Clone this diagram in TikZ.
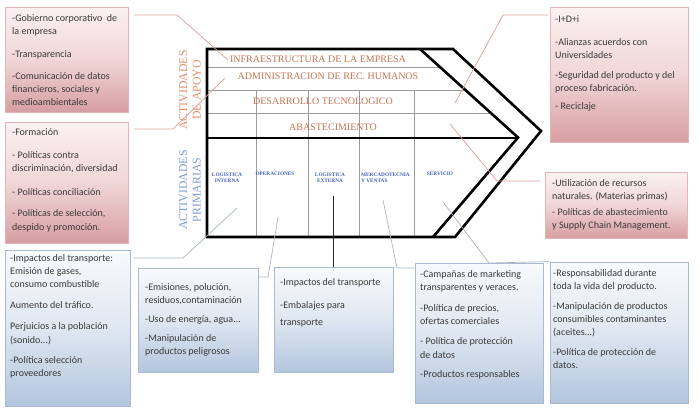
\documentclass[tikz,border=0pt]{standalone}
\usepackage{fontspec}
\setmainfont{Carlito}
\newfontfamily\serifrm{Liberation Serif}
\usetikzlibrary{shadows}
\definecolor{pinkedge}{HTML}{E2B5B7}
\definecolor{pinktop}{HTML}{FBF1F1}
\definecolor{pinkmid}{HTML}{F1D6D7}
\definecolor{pinkbot}{HTML}{D79EA2}
\definecolor{blueedge}{HTML}{A9BBD0}
\definecolor{bluetop}{HTML}{F8FAFD}
\definecolor{bluemid}{HTML}{DFE7F1}
\definecolor{bluebot}{HTML}{B3C6DE}
\definecolor{pinkline}{HTML}{E49C9C}
\definecolor{grayline}{HTML}{A9B6C4}
\definecolor{rowtext}{HTML}{C57552}
\definecolor{apoyo}{HTML}{E3906E}
\definecolor{primcol}{HTML}{7E9CD3}
\definecolor{coltext}{HTML}{3F62B8}
\definecolor{boxtext}{HTML}{3A3A3A}
\definecolor{gridline}{HTML}{9A9A9A}
\tikzset{
  pinkbox/.style={draw=pinkedge, line width=0.8pt, top color=pinktop, bottom color=pinkbot, middle color=pinkmid,
    drop shadow={opacity=0.18, shadow xshift=1.2pt, shadow yshift=-1.2pt}, inner sep=0pt},
  bluebox/.style={draw=blueedge, line width=0.8pt, top color=bluetop, bottom color=bluebot, middle color=bluemid,
    drop shadow={opacity=0.18, shadow xshift=1.2pt, shadow yshift=-1.2pt}, inner sep=0pt},
  boxtxt/.style={anchor=north west, align=left, inner sep=0pt, font=\fontsize{10}{13.2}\selectfont, text=boxtext},
  rowlbl/.style={font=\serifrm\fontsize{10}{11}\selectfont, text=rowtext, inner sep=0pt},
  collbl/.style={font=\serifrm\bfseries\fontsize{5.3}{6.3}\selectfont, text=coltext, inner sep=0pt, align=center},
  sidelbl/.style={font=\serifrm\fontsize{11.8}{13.5}\selectfont, rotate=90, align=center, inner sep=0pt},
  thickline/.style={line width=2.6pt, line join=miter},
  thinrow/.style={gridline, line width=0.5pt},
  pinkconn/.style={pinkline, line width=0.7pt},
  grayconn/.style={grayline, line width=0.7pt},
}
\begin{document}
\begin{tikzpicture}[x=1pt,y=-1pt]
\useasboundingbox[fill=white] (0,0) rectangle (700,408);

% ---- value chain grid ----
\draw[thinrow] (207,67) -- (440,67);
\draw[thinrow] (207,90) -- (465.7,90);
\draw[thinrow] (207,113) -- (491.3,113);
\foreach \xx in {256,308,359,414}{
  \draw[thinrow] (\xx,90) -- (\xx,237);
}
\draw[thickline] (207,49) -- (453,49) -- (541,131) -- (455,237) -- (207,237) -- cycle;
\draw[thickline] (420,49) -- (518,137.5) -- (433,237);
\draw[thickline] (207,138) -- (518,138);

% ---- support rows ----
\node[rowlbl] (infra) at (318,59) {INFRAESTRUCTURA DE LA EMPRESA};
\node[rowlbl] (rrhh) at (328,76) {ADMINISTRACION DE REC. HUMANOS};
\node[rowlbl] (tec) at (323,101) {DESARROLLO TECNOLOGICO};
\node[rowlbl] (abast) at (333,127) {ABASTECIMIENTO};

% ---- primary columns ----
\node[collbl] (li) at (227,178) {LOGISTICA\\INTERNA};
\node[collbl] (op) at (275,174) {OPERACIONES};
\node[collbl] (le) at (330,178) {LOGISTICA\\EXTERNA};
\node[collbl, align=left, anchor=west] (mv) at (361,178) {MERCADOTECNIA\\Y VENTAS};
\node[collbl] (sv) at (440,174) {SERVICIO};

% ---- side labels ----
\node[sidelbl, text=apoyo] (apoyo) at (190,90) {ACTIVIDADES\\DE APOYO};
\node[sidelbl, text=primcol] (prim) at (190,190) {ACTIVIDADES\\PRIMARIAS};

% ---- boxes ----
\node[pinkbox, minimum width=123pt, minimum height=105pt] (b1) at (66.5,59.5) {};
\node[pinkbox, minimum width=123pt, minimum height=121pt] (b2) at (66.5,182.5) {};
\node[pinkbox, minimum width=138pt, minimum height=135pt] (b3) at (619,74.5) {};
\node[pinkbox, minimum width=142pt, minimum height=66pt] (b4) at (616,205) {};
\node[bluebox, minimum width=125pt, minimum height=156pt] (b5) at (67.5,328) {};
\node[bluebox, minimum width=120pt, minimum height=104pt] (b6) at (198,320) {};
\node[bluebox, minimum width=119pt, minimum height=105pt] (b7) at (333.5,319.5) {};
\node[bluebox, minimum width=128pt, minimum height=140pt] (b8) at (479,333) {};
\node[bluebox, minimum width=138pt, minimum height=141pt] (b9) at (619,332.5) {};

% ---- box texts ----
\node[boxtxt] (t1) at (12,14) {-Gobierno corporativo\ \ de\\la empresa\\[9.5pt]-Transparencia\\[9pt]-Comunicación de datos\\financieros, sociales y\\medioambientales};
\node[boxtxt] (t2) at (12,128) {-Formación\\[10pt]- Políticas contra\\discriminación, diversidad\\[11pt]- Políticas conciliación\\[8pt]- Políticas de selección,\\despido y promoción.};
\node[boxtxt] (t3) at (555,15) {-I+D+i\\[10.5pt]-Alianzas acuerdos con\\Universidades\\[6pt]-Seguridad del producto y del\\proceso fabricación.\\[5pt]- Reciclaje};
\node[boxtxt] (t4) at (552,179) {-Utilización de recursos\\naturales. (Materias primas)\\[2.5pt]- Políticas de abastecimiento\\y Supply Chain Management.};
\node[boxtxt] (t5) at (10,254) {-Impactos del transporte:\\Emisión de gases,\\consumo combustible\\[8pt]Aumento del tráfico.\\[8pt]Perjuicios a la población\\(sonido...)\\[7pt]-Política selección\\proveedores};
\node[boxtxt] (t6) at (145,283) {-Emisiones, polución,\\residuos,contaminación\\[6pt]-Uso de energía, agua...\\[6pt]-Manipulación de\\productos peligrosos};
\node[boxtxt] (t7) at (280,278) {-Impactos del transporte\\[10pt]-Embalajes para\\[4pt]transporte};
\node[boxtxt] (t8) at (420,270) {-Campañas de marketing\\transparentes y veraces.\\[8pt]-Política de precios,\\ofertas comerciales\\[7pt]- Política de protección\\de datos\\[6pt]-Productos responsables};
\node[boxtxt] (t9) at (553,269) {-Responsabilidad durante\\toda la vida del producto.\\[6.5pt]-Manipulación de productos\\consumibles contaminantes\\(aceites...)\\[6.5pt]-Política de protección de\\datos.};

% ---- connectors ----
\coordinate (k1s) at (134,15);  \coordinate (k1b) at (177,15);  \coordinate (k1e) at (228,60);
\coordinate (k2s) at (134,129); \coordinate (k2b) at (173,129); \coordinate (k2e) at (225,78);
\coordinate (k3s) at (548,15);  \coordinate (k3b) at (503,15);  \coordinate (k3e) at (455,103);
\coordinate (k4s) at (540,181); \coordinate (k4b) at (497,181); \coordinate (k4e) at (450,124);
\coordinate (k5s) at (133,258); \coordinate (k5b) at (183,258); \coordinate (k5e) at (237,208);
\coordinate (k6b) at (268,277); \coordinate (k6e) at (278,217);
\coordinate (k7e) at (333,196);
\coordinate (k8b) at (397,268); \coordinate (k8e) at (383,200);
\coordinate (k9b) at (489,263); \coordinate (k9e) at (443,202);

\draw[pinkconn] (k1s) -- (k1b) -- (k1e);
\draw[pinkconn] (k2s) -- (k2b) -- (k2e);
\draw[pinkconn] (k3s) -- (k3b) -- (k3e);
\draw[pinkconn] (k4s) -- (k4b) -- (k4e);
\draw[grayconn] (k5s) -- (k5b) -- (k5e);
\draw[grayconn] (b6.east |- k6b) -- (k6b) -- (k6e);
\draw[black!85, line width=0.9pt] (b7.north -| k7e) -- (k7e);
\draw[grayconn] (b8.west |- k8b) -- (k8b) -- (k8e);
\draw[grayconn] (b9.north west) -- (k9b) -- (k9e);
\end{tikzpicture}
\end{document}
